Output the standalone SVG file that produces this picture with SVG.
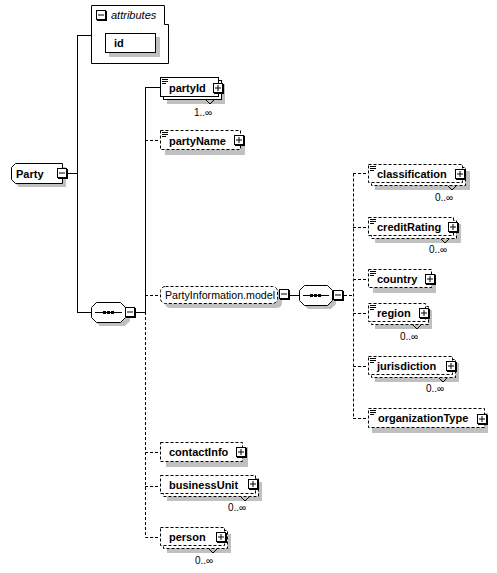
<svg xmlns="http://www.w3.org/2000/svg" width="497" height="573" viewBox="0 0 497 573">
<style>
.bg{fill:#fff}
.sh{fill:#c0c0c0;stroke:none}
.box{fill:#fff;stroke:#000;stroke-width:1}
.d{stroke-dasharray:3,2}
.ln{fill:none;stroke:#000;stroke-width:1}
.dl{fill:none;stroke:#000;stroke-width:1;stroke-dasharray:3,2}
.lb{font-family:"Liberation Sans",Arial,sans-serif;font-size:11px;font-weight:bold;fill:#000}
.nm{font-family:"Liberation Sans",Arial,sans-serif;font-size:11px;fill:#000}
.it{font-family:"Liberation Sans",Arial,sans-serif;font-size:11px;font-style:italic;fill:#000}
.oc{font-family:"Liberation Sans",Arial,sans-serif;font-size:10px;fill:#000}
</style>
<defs>
<symbol id="plus" viewBox="0 0 11 11" width="11" height="11" overflow="visible">
<rect x="1" y="1" width="10" height="10" fill="#000"/>
<rect x="0.5" y="0.5" width="9" height="9" fill="#fff" stroke="#000"/>
<path d="M2 5H8M5 2V8" stroke="#000" fill="none"/>
</symbol>
<symbol id="minus" viewBox="0 0 11 11" width="11" height="11" overflow="visible">
<rect x="1" y="1" width="10" height="10" fill="#000"/>
<rect x="0.5" y="0.5" width="9" height="9" fill="#fff" stroke="#000"/>
<path d="M2 5H8" stroke="#000" fill="none"/>
</symbol>
<g id="icon">
<rect x="0" y="0" width="8" height="7" fill="#fff"/>
<path d="M1 1.5H7M1 3.5H7M1 5.5H5" stroke="#000" fill="none"/>
</g>
</defs>
<rect width="497" height="573" fill="#fff"/>

<g id="connectors">
<path class="ln" d="M68 173.5H77.5M77.5 35V312.5M77 35.5H92M77 312.5H91"/>
<path class="ln" d="M136 312.5H145.5M145.5 87.5V312M145 87.5H160"/>
<path class="dl" d="M145.5 312V537.5H160M145 140.5H160M145 295.5H160M145 452.5H160M145 486.5H160"/>
<path class="ln" d="M290 295.5H299"/>
<path class="dl" d="M344 295.5H353.5M353.5 173.5V418.5M353 173.5H368M353 227.5H368M353 279.5H368M353 313.5H368M353 366.5H368M353 418.5H368"/>
</g>

<g id="attributes">
<path class="box" d="M91.5 5.5H164.5V24.5H168.5V63.5H91.5Z"/>
<use href="#minus" x="96" y="10"/>
<text class="it" x="111" y="19">attributes</text>
<rect class="sh" x="109" y="37" width="51" height="20"/>
<rect class="box" x="105.5" y="33.5" width="50" height="19"/>
<text class="lb" x="114" y="47">id</text>
</g>

<g id="Party">
<polygon class="sh" points="19,167 66,167 66,187 19,187 15,183 15,171"/>
<polygon class="box" points="15.5,163.5 62.5,163.5 62.5,183.5 15.5,183.5 11.5,179.5 11.5,167.5"/>
<text class="lb" x="16" y="178">Party</text>
<use href="#minus" x="57" y="168"/>
</g>

<g id="sequence1">
<polygon class="sh" points="100,306 125,306 130,311 130,321 125,326 100,326 95,321 95,311"/>
<polygon class="box" points="96.5,302.5 120.5,302.5 125.5,307.5 125.5,317.5 120.5,322.5 96.5,322.5 91.5,317.5 91.5,307.5"/>
<path class="ln" d="M95 312.5H122"/>
<rect x="103" y="311" width="3" height="3"/><rect x="107" y="311" width="3" height="3"/><rect x="111" y="311" width="3" height="3"/>
<use href="#minus" x="125" y="307"/>
</g>

<g id="partyId">
<rect class="sh" x="167" y="84" width="58" height="20"/>
<rect class="box" x="163.5" y="80.5" width="58" height="19"/>
<rect class="box" x="160.5" y="77.5" width="58" height="19"/>
<use href="#icon" x="161" y="78"/>
<text class="lb" x="169" y="92">partyId</text>
<use href="#plus" x="213" y="83"/>
<path class="ln" d="M206 100L210 104L214 100"/>
<text class="oc" x="194" y="116">1..∞</text>
</g>

<g id="partyName">
<rect class="sh" x="165" y="135" width="80" height="20"/>
<rect class="box d" x="160.5" y="130.5" width="80" height="19"/>
<use href="#icon" x="161" y="131"/>
<text class="lb" x="169" y="145">partyName</text>
<use href="#plus" x="234" y="135"/>
</g>

<g id="PartyInformation.model">
<rect class="sh" x="165" y="290" width="117" height="18" rx="5"/>
<rect class="box d" x="160.5" y="286.5" width="117" height="17" rx="5"/>
<text class="nm" x="165" y="299" textLength="110" lengthAdjust="spacingAndGlyphs">PartyInformation.model</text>
<use href="#minus" x="279" y="289"/>
</g>

<g id="sequence2">
<polygon class="sh" points="308,289 331,289 336,294 336,304 331,309 308,309 303,304 303,294"/>
<polygon class="box" points="304.5,285.5 327.5,285.5 332.5,290.5 332.5,300.5 327.5,305.5 304.5,305.5 299.5,300.5 299.5,290.5"/>
<path class="ln" d="M303 295.5H329"/>
<rect x="310" y="294" width="3" height="3"/><rect x="314" y="294" width="3" height="3"/><rect x="318" y="294" width="3" height="3"/>
<use href="#minus" x="333" y="290"/>
</g>

<g id="classification">
<rect class="sh" x="375" y="171" width="95" height="19"/>
<rect class="box d" x="371.5" y="167.5" width="94" height="18"/>
<rect class="box d" x="368.5" y="164.5" width="94" height="18"/>
<use href="#icon" x="369" y="165"/>
<text class="lb" x="377" y="178">classification</text>
<use href="#plus" x="455" y="169"/>
<path class="ln" d="M448 186L452 190L456 186"/>
<text class="oc" x="435" y="201">0..∞</text>
</g>

<g id="creditRating">
<rect class="sh" x="375" y="224" width="86" height="19"/>
<rect class="box d" x="371.5" y="220.5" width="85" height="18"/>
<rect class="box d" x="368.5" y="217.5" width="85" height="18"/>
<use href="#icon" x="369" y="218"/>
<text class="lb" x="377" y="231">creditRating</text>
<use href="#plus" x="448" y="222"/>
<path class="ln" d="M441 239L445 243L449 239"/>
<text class="oc" x="429" y="253">0..∞</text>
</g>

<g id="country">
<rect class="sh" x="373" y="274" width="63" height="19"/>
<rect class="box d" x="368.5" y="269.5" width="63" height="18"/>
<use href="#icon" x="369" y="270"/>
<text class="lb" x="377" y="283">country</text>
<use href="#plus" x="425" y="274"/>
</g>

<g id="region">
<rect class="sh" x="375" y="310" width="57" height="19"/>
<rect class="box d" x="371.5" y="306.5" width="57" height="18"/>
<rect class="box d" x="368.5" y="303.5" width="57" height="18"/>
<use href="#icon" x="369" y="304"/>
<text class="lb" x="377" y="317">region</text>
<use href="#plus" x="419" y="308"/>
<path class="ln" d="M413 325L417 329L421 325"/>
<text class="oc" x="400" y="340">0..∞</text>
</g>

<g id="jurisdiction">
<rect class="sh" x="375" y="363" width="84" height="19"/>
<rect class="box d" x="371.5" y="359.5" width="84" height="18"/>
<rect class="box d" x="368.5" y="356.5" width="84" height="18"/>
<use href="#icon" x="369" y="357"/>
<text class="lb" x="377" y="370">jurisdiction</text>
<use href="#plus" x="446" y="361"/>
<path class="ln" d="M439 378L443 382L447 378"/>
<text class="oc" x="426" y="392">0..∞</text>
</g>

<g id="organizationType">
<rect class="sh" x="372" y="413" width="116" height="20"/>
<rect class="box d" x="368.5" y="408.5" width="116" height="19"/>
<use href="#icon" x="369" y="409"/>
<text class="lb" x="378" y="422">organizationType</text>
<use href="#plus" x="477" y="414"/>
</g>

<g id="contactInfo">
<rect class="sh" x="166" y="447" width="82" height="20"/>
<rect class="box d" x="160.5" y="442.5" width="82" height="19"/>
<text class="lb" x="169" y="456">contactInfo</text>
<use href="#plus" x="236" y="447"/>
</g>

<g id="businessUnit">
<rect class="sh" x="167" y="482" width="95" height="19"/>
<rect class="box d" x="163.5" y="478.5" width="95" height="18"/>
<rect class="box d" x="160.5" y="475.5" width="95" height="18"/>
<text class="lb" x="169" y="489">businessUnit</text>
<use href="#plus" x="248" y="479"/>
<path class="ln" d="M241 497L245 501L249 497"/>
<text class="oc" x="228" y="511">0..∞</text>
</g>

<g id="person">
<rect class="sh" x="167" y="534" width="64" height="19"/>
<rect class="box d" x="163.5" y="530.5" width="64" height="18"/>
<rect class="box d" x="160.5" y="527.5" width="64" height="18"/>
<text class="lb" x="169" y="541">person</text>
<use href="#plus" x="216" y="532"/>
<path class="ln" d="M209 549L213 553L217 549"/>
<text class="oc" x="195" y="564">0..∞</text>
</g>
</svg>
